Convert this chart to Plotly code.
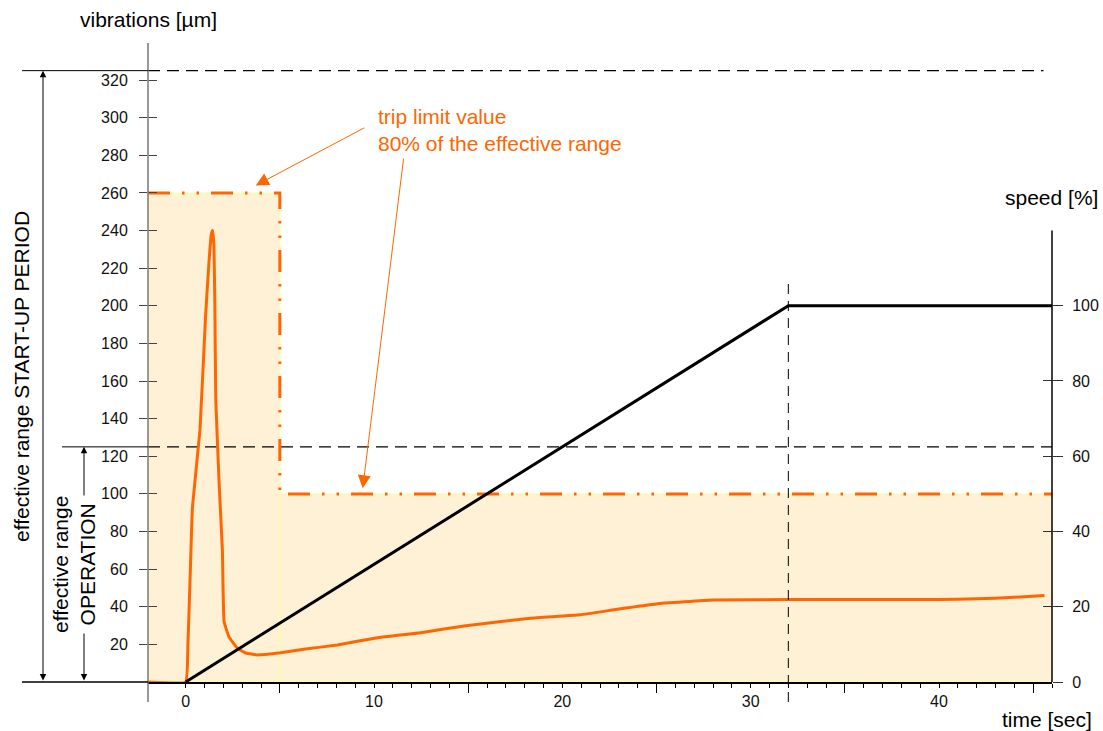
import plotly.graph_objects as go

# ---- data -------------------------------------------------------------
# vibration amplitude during a machine start-up [µm] over time [sec]
vib_t = [-2, 0, 0.12, 0.25, 0.36, 0.76, 1.06, 1.25, 1.36, 1.43, 1.5, 1.55, 1.6,
         1.78, 1.95, 2.04, 2.3, 2.74, 3.19, 3.8, 5.04, 6.27, 8.05, 10.35, 12.48,
         14.78, 18.3, 20.95, 23, 25, 28, 32, 36, 40, 42, 44, 45.6]
vib_um = [0, 0, 20, 60, 93, 134, 195, 225, 238, 240, 232, 200, 150,
          105, 70, 32, 24, 18, 15.4, 14.4, 15.6, 17.4, 19.7, 23.8, 26.2,
          29.8, 33.9, 35.7, 38.8, 41.5, 43.6, 43.8, 43.8, 43.9, 44.2, 45.0, 46.0]

# machine speed [% of nominal]
speed_t = [0, 32, 46]
speed_pct = [0, 100, 100]

# effective measuring ranges [µm]
range_startup = 325
range_operation = 125

# trip limit: 80 % of the active effective range
trip_t = [-2, 5, 5, 46]
trip_um = [0.8 * range_startup, 0.8 * range_startup,
           0.8 * range_operation, 0.8 * range_operation]

ramp_end_t = 32          # end of the speed ramp
t_min, t_max = -2, 46
vib_max = 339.7
speed_max = 169.8
speed_axis_top = 120

vib_ticks = list(range(20, 321, 20))
speed_ticks = list(range(0, 101, 20))
time_ticks = [0, 10, 20, 30, 40]
time_half_ticks = [5, 15, 25, 35, 45]
time_minor = list(range(0, 47))

# ---- styling ---------------------------------------------------------
FONT = "Liberation Sans, Arial, sans-serif"
ORANGE = "#FF6600"
FILL = "#FEF1D6"
EDGE = "#FFFF99"

W, H = 1103, 731
ML, MR, MT, MB = 148, 51, 43, 49
PW, PH = W - ML - MR, H - MT - MB


def px_x(px):
    """horizontal pixel -> paper fraction"""
    return (px - ML) / PW


def px_y(py):
    """vertical pixel -> paper fraction"""
    return (H - MB - py) / PH


fig = go.Figure()

# shaded zones below the trip limit
fig.add_trace(go.Scatter(
    x=[trip_t[0], trip_t[1], trip_t[1], trip_t[0], trip_t[0]],
    y=[0, 0, trip_um[0], trip_um[0], 0],
    fill="toself", fillcolor=FILL, mode="lines",
    line=dict(color=EDGE, width=1), hoverinfo="skip", showlegend=False))
fig.add_trace(go.Scatter(
    x=[trip_t[2], trip_t[3], trip_t[3], trip_t[2], trip_t[2]],
    y=[0, 0, trip_um[2], trip_um[2], 0],
    fill="toself", fillcolor=FILL, mode="lines",
    line=dict(color=EDGE, width=1), hoverinfo="skip", showlegend=False))

# effective range limits
fig.add_trace(go.Scatter(
    x=[t_min, 45.55], y=[range_startup, range_startup], mode="lines",
    line=dict(color="black", width=1.3, dash="12px,7px"),
    hoverinfo="skip", showlegend=False))
fig.add_trace(go.Scatter(
    x=[t_min, t_max], y=[range_operation, range_operation], mode="lines",
    line=dict(color="black", width=1.3, dash="12px,7px"),
    hoverinfo="skip", showlegend=False))

# trip limit line
fig.add_trace(go.Scatter(
    x=trip_t, y=trip_um, mode="lines",
    line=dict(color=ORANGE, width=3, dash="22px,12px,2.5px,12px,2.5px,12px"),
    hoverinfo="skip", showlegend=False))

# speed ramp
fig.add_trace(go.Scatter(
    x=speed_t, y=speed_pct, yaxis="y2", mode="lines",
    line=dict(color="black", width=3), name="speed", showlegend=False))

# vibration signal
fig.add_trace(go.Scatter(
    x=vib_t, y=vib_um, mode="lines",
    line=dict(color=ORANGE, width=3, shape="spline", smoothing=0.3),
    name="vibrations", showlegend=False))

# empty traces that carry the tick-only helper axes
fig.add_trace(go.Scatter(x=[], y=[], xaxis="x2", yaxis="y3", showlegend=False))
fig.add_trace(go.Scatter(x=[], y=[], xaxis="x2", yaxis="y4", showlegend=False))

tickfont = dict(family=FONT, size=16, color="#111")

fig.update_layout(
    width=W, height=H, autosize=False,
    margin=dict(l=ML, r=MR, t=MT, b=MB),
    paper_bgcolor="white", plot_bgcolor="white",
    font=dict(family=FONT, size=21, color="black"),
    xaxis=dict(range=[t_min, t_max], showgrid=False, zeroline=False,
               showline=True, linecolor="black", linewidth=1.5,
               layer="below traces", automargin=False,
               tickmode="array", tickvals=time_ticks, ticks="outside",
               ticklen=4, tickwidth=1, tickcolor="black", tickfont=tickfont,
               minor=dict(tickmode="array", tickvals=time_minor, ticks="outside",
                          ticklen=4, tickwidth=1, tickcolor="black")),
    xaxis2=dict(range=[t_min, t_max], overlaying="x", anchor="y", side="bottom",
                showgrid=False, zeroline=False, showline=False, automargin=False,
                showticklabels=False, tickmode="array", tickvals=time_half_ticks,
                ticks="outside", ticklen=10, tickwidth=1, tickcolor="black"),
    yaxis=dict(range=[0, vib_max], showgrid=False, zeroline=False,
               showline=False, automargin=False,
               tickmode="array", tickvals=vib_ticks,
               ticks="outside", ticklen=8, tickwidth=1, tickcolor="#444",
               tickfont=tickfont, ticklabelstandoff=8),
    yaxis3=dict(range=[0, vib_max], overlaying="y", anchor="x", side="left",
                showgrid=False, zeroline=False, showline=False, automargin=False,
                showticklabels=False, tickmode="array", tickvals=vib_ticks,
                ticks="inside", ticklen=9, tickwidth=1, tickcolor="#444"),
    yaxis2=dict(range=[0, speed_max], overlaying="y", anchor="x", side="right",
                showgrid=False, zeroline=False, showline=False, automargin=False,
                tickmode="array", tickvals=speed_ticks, ticks="outside",
                ticklen=10, tickwidth=1, tickcolor="#333", tickfont=tickfont,
                ticklabelstandoff=6),
    yaxis4=dict(range=[0, speed_max], overlaying="y", anchor="x", side="right",
                showgrid=False, zeroline=False, showline=False, automargin=False,
                showticklabels=False, tickmode="array", tickvals=speed_ticks[1:-1],
                ticks="inside", ticklen=9, tickwidth=1, tickcolor="#333"),
)

shapes = [
    # vibration axis line, reaching below the time axis
    dict(type="line", xref="paper", yref="paper", x0=0, x1=0,
         y0=px_y(702), y1=1, line=dict(color="#777", width=1.5)),
    # speed axis line
    dict(type="line", xref="paper", yref="y2", x0=1, x1=1,
         y0=0, y1=speed_axis_top, line=dict(color="black", width=1.5)),
    # extension lines of the range limits into the left margin
    dict(type="line", xref="paper", yref="y", x0=px_x(22), x1=0,
         y0=range_startup, y1=range_startup, line=dict(color="black", width=1)),
    dict(type="line", xref="paper", yref="y", x0=px_x(62), x1=0,
         y0=range_operation, y1=range_operation, line=dict(color="black", width=1)),
    dict(type="line", xref="paper", yref="paper", x0=px_x(22), x1=0,
         y0=0, y1=0, line=dict(color="black", width=1.5)),
    # end of the speed ramp
    dict(type="line", xref="x", yref="paper", x0=ramp_end_t, x1=ramp_end_t,
         y0=px_y(702), y1=px_y(280), layer="above",
         line=dict(color="black", width=1, dash="10px,7px")),
]
fig.update_layout(shapes=shapes)

annotations = [
    # dimension arrows of the effective ranges
    dict(xref="paper", yref="y", x=px_x(43), y=range_startup,
         axref="pixel", ayref="y", ax=0, ay=0, text="", showarrow=True,
         arrowhead=2, startarrowhead=2, arrowside="end+start",
         arrowsize=1.3, startarrowsize=1.3, arrowwidth=1, arrowcolor="black",
         standoff=0, startstandoff=0),
    dict(xref="paper", yref="y", x=px_x(84), y=range_operation,
         axref="pixel", ayref="y", ax=0, ay=0, text="", showarrow=True,
         arrowhead=2, startarrowhead=2, arrowside="end+start",
         arrowsize=1.3, startarrowsize=1.3, arrowwidth=1, arrowcolor="black",
         standoff=0, startstandoff=0),
    dict(xref="paper", yref="paper", x=px_x(21), y=px_y(377),
         text="effective range START-UP PERIOD", textangle=-90,
         showarrow=False, xanchor="center", yanchor="middle",
         font=dict(size=21)),
    dict(xref="paper", yref="paper", x=px_x(74), y=px_y(565),
         text="effective range<br>OPERATION", textangle=-90,
         showarrow=False, xanchor="center", yanchor="middle",
         bgcolor="white", borderpad=0, font=dict(size=21)),
    # axis titles
    dict(xref="paper", yref="paper", x=0, y=px_y(20), text="vibrations [µm]",
         showarrow=False, xanchor="center", yanchor="middle", font=dict(size=21)),
    dict(xref="paper", yref="paper", x=px_x(1051), y=px_y(198), text="speed [%]",
         showarrow=False, xanchor="center", yanchor="middle", font=dict(size=21)),
    dict(xref="paper", yref="paper", x=px_x(1047), y=px_y(719), text="time [sec]",
         showarrow=False, xanchor="center", yanchor="middle", font=dict(size=21)),
    # trip limit callout
    dict(xref="x", yref="y", x=10.1, y=293.5,
         text="trip limit value<br>80% of the effective range",
         showarrow=False, xanchor="left", yanchor="middle", align="left",
         font=dict(size=21, color=ORANGE)),
    dict(xref="x", yref="y", x=3.72, y=264, axref="x", ayref="y",
         ax=9.56, ay=295, text="", showarrow=True, arrowhead=2,
         arrowsize=2.6, arrowwidth=1, arrowcolor=ORANGE, standoff=0),
    dict(xref="x", yref="y", x=9.4, y=103, axref="x", ayref="y",
         ax=11.58, ay=279, text="", showarrow=True, arrowhead=2,
         arrowsize=2.6, arrowwidth=1, arrowcolor=ORANGE, standoff=0),
]
fig.update_layout(annotations=annotations)

fig.write_html("out.html")
